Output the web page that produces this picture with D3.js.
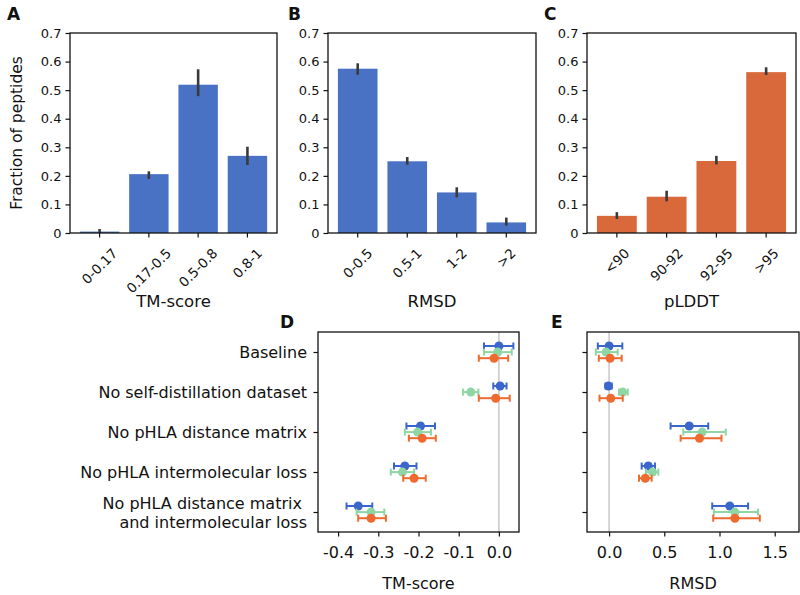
<!DOCTYPE html>
<meta charset="utf-8">
<script src="https://d3js.org/d3.v7.min.js"></script>
<style>
  body { margin: 0; background: #fff; }
  text { font-family: "DejaVu Sans", sans-serif; fill: #111; }
</style>
<div id="chart"></div>
<script>
// ---- data: top bar panels ----
var tmCats = ["0-0.17", "0.17-0.5", "0.5-0.8", "0.8-1"];
var tmVals = [0.005, 0.206, 0.519, 0.270];
var tmLo   = [0.000, 0.189, 0.479, 0.238];
var tmHi   = [0.014, 0.216, 0.573, 0.302];

var rmsdCats = ["0-0.5", "0.5-1", "1-2", ">2"];
var rmsdVals = [0.575, 0.251, 0.142, 0.037];
var rmsdLo   = [0.554, 0.239, 0.125, 0.026];
var rmsdHi   = [0.594, 0.266, 0.160, 0.054];

var plddtCats = ["<90", "90-92", "92-95", ">95"];
var plddtVals = [0.060, 0.127, 0.252, 0.563];
var plddtLo   = [0.049, 0.111, 0.240, 0.553];
var plddtHi   = [0.073, 0.148, 0.270, 0.580];

var yTicksTop = [0, 0.1, 0.2, 0.3, 0.4, 0.5, 0.6, 0.7];

// ---- data: ablation panels ----
var conditions = ["Baseline", "No self-distillation dataset", "No pHLA distance matrix",
  "No pHLA intermolecular loss", "No pHLA distance matrix \nand intermolecular loss"];
var seriesNames = ["s1", "s2", "s3"];

var tmBlue     = [0.000, 0.003, -0.195, -0.234, -0.350];
var tmBlueLo   = [-0.037, -0.014, -0.230, -0.261, -0.379];
var tmBlueHi   = [0.036, 0.019, -0.159, -0.205, -0.315];
var tmGreen    = [-0.003, -0.070, -0.202, -0.240, -0.318];
var tmGreenLo  = [-0.037, -0.089, -0.234, -0.269, -0.354];
var tmGreenHi  = [0.032, -0.051, -0.169, -0.211, -0.285];
var tmOrange   = [-0.012, -0.008, -0.191, -0.211, -0.318];
var tmOrangeLo = [-0.050, -0.050, -0.224, -0.238, -0.350];
var tmOrangeHi = [0.023, 0.027, -0.157, -0.182, -0.281];

var rmBlue     = [0.000, -0.006, 0.726, 0.355, 1.093];
var rmBlueLo   = [-0.102, -0.033, 0.557, 0.295, 0.934];
var rmBlueHi   = [0.120, 0.024, 0.898, 0.416, 1.259];
var rmGreen    = [-0.027, 0.124, 0.843, 0.394, 1.139];
var rmGreenLo  = [-0.120, 0.090, 0.672, 0.334, 0.949];
var rmGreenHi  = [0.078, 0.169, 1.057, 0.446, 1.349];
var rmOrange   = [0.009, 0.015, 0.819, 0.328, 1.139];
var rmOrangeLo = [-0.093, -0.087, 0.648, 0.271, 0.943];
var rmOrangeHi = [0.114, 0.124, 1.018, 0.386, 1.365];

var tmTicksD = [-0.4, -0.3, -0.2, -0.1, 0.0];
var rmTicksE = [0.0, 0.5, 1.0, 1.5];

// colours
var barBlue = "#4a72c4", barOrange = "#d9683b";
var ptColors = ["#3b66cc", "#8fd6a5", "#ee6a2e"];

var svg = d3.select("#chart").append("svg")
  .attr("width", 800).attr("height", 595);

function frame(g, w, h) {
  g.append("rect").attr("width", w).attr("height", h)
    .attr("fill", "none").attr("stroke", "#111").attr("stroke-width", 1.3);
}

// ---- bar panel ----
function barPanel(x0, w, cats, vals, lo, hi, color, letter, xlabel, ylab) {
  var top = 33, h = 200;
  var g = svg.append("g").attr("transform", "translate(" + x0 + "," + top + ")");
  var x = d3.scaleBand().domain(cats).range([0, w]).padding(0.2);
  var y = d3.scaleLinear().domain([0, 0.7]).range([h, 0]);

  g.selectAll(".bar").data(cats).enter().append("rect")
    .attr("x", function(d) { return x(d); })
    .attr("width", x.bandwidth())
    .attr("y", function(d, i) { return y(vals[i]); })
    .attr("height", function(d, i) { return h - y(vals[i]); })
    .attr("fill", color);

  g.selectAll(".err").data(cats).enter().append("line")
    .attr("x1", function(d) { return x(d) + x.bandwidth() / 2; })
    .attr("x2", function(d) { return x(d) + x.bandwidth() / 2; })
    .attr("y1", function(d, i) { return y(lo[i]); })
    .attr("y2", function(d, i) { return y(hi[i]); })
    .attr("stroke", "#3a3a3a").attr("stroke-width", 2.6);

  frame(g, w, h);

  var ya = g.append("g").call(d3.axisLeft(y).tickValues(yTicksTop).tickSize(4.5).tickPadding(4)
    .tickFormat(function(d) { return d === 0 ? "0" : d3.format(".1f")(d); }));
  ya.select(".domain").remove();
  ya.selectAll("line").attr("stroke", "#111").attr("stroke-width", 1.2);
  ya.selectAll("text").style("font-size", "13px").style("font-family", "DejaVu Sans");

  var xa = g.append("g").attr("transform", "translate(0," + h + ")")
    .call(d3.axisBottom(x).tickSize(4.5).tickFormat(""));
  xa.select(".domain").remove();
  xa.selectAll("line").attr("stroke", "#111").attr("stroke-width", 1.2);

  // rotated tick labels, bbox centred on tick
  cats.forEach(function(c) {
    var cx = x(c) + x.bandwidth() / 2;
    var t = g.append("text").text(c).style("font-size", "13.5px")
      .attr("text-anchor", "middle").attr("dy", "0.35em");
    var len = t.node().getComputedTextLength();
    var half = (len + 11) * 0.7071 / 2;
    t.attr("transform", "translate(" + cx + "," + (h + 14 + half) + ") rotate(-45)");
  });

  g.append("text").attr("x", w / 2).attr("y", 274).attr("text-anchor", "middle")
    .style("font-size", "16.5px").text(xlabel);

  svg.append("text").attr("x", letter[1]).attr("y", 20)
    .style("font-size", "17px").style("font-weight", "bold").text(letter[0]);

  if (ylab) {
    svg.append("text").attr("transform", "translate(22," + (top + h / 2) + ") rotate(-90)")
      .attr("text-anchor", "middle").style("font-size", "15.5px").text(ylab);
  }
}

barPanel(70, 207, tmCats, tmVals, tmLo, tmHi, barBlue, ["A", 7], "TM-score", "Fraction of peptides");
barPanel(328, 208, rmsdCats, rmsdVals, rmsdLo, rmsdHi, barBlue, ["B", 288], "RMSD", null);
barPanel(587, 209, plddtCats, plddtVals, plddtLo, plddtHi, barOrange, ["C", 544], "pLDDT", null);

// ---- ablation panel ----
function dotPanel(x0, w, domain, ticks, fmt, series, letter, xlabel, showCats) {
  var top = 332, h = 200;
  var g = svg.append("g").attr("transform", "translate(" + x0 + "," + top + ")");
  var x = d3.scaleLinear().domain(domain).range([0, w]);
  var y = d3.scalePoint().domain(conditions).range([0, h]).padding(0.5);
  var off = d3.scalePoint().domain(seriesNames).range([-6, 6.2]);

  g.append("line").attr("x1", x(0)).attr("x2", x(0)).attr("y1", 0).attr("y2", h)
    .attr("stroke", "#c8c8c8").attr("stroke-width", 1.5);

  series.forEach(function(s, si) {
    var col = ptColors[si];
    var sg = g.append("g");
    conditions.forEach(function(c, i) {
      var yy = y(c) + off(seriesNames[si]);
      sg.append("line").attr("x1", x(s.lo[i])).attr("x2", x(s.hi[i]))
        .attr("y1", yy).attr("y2", yy).attr("stroke", col).attr("stroke-width", 2);
      [s.lo[i], s.hi[i]].forEach(function(v) {
        sg.append("line").attr("x1", x(v)).attr("x2", x(v))
          .attr("y1", yy - 3.5).attr("y2", yy + 3.5).attr("stroke", col).attr("stroke-width", 2);
      });
      sg.append("circle").attr("cx", x(s.mean[i])).attr("cy", yy).attr("r", 4.5).attr("fill", col);
    });
  });

  frame(g, w, h);

  var xa = g.append("g").attr("transform", "translate(0," + h + ")")
    .call(d3.axisBottom(x).tickValues(ticks).tickSize(4.5).tickPadding(10).tickFormat(fmt));
  xa.select(".domain").remove();
  xa.selectAll("line").attr("stroke", "#111").attr("stroke-width", 1.2);
  xa.selectAll("text").style("font-size", "16px").style("font-family", "DejaVu Sans");

  var ya = g.append("g").call(d3.axisLeft(y).tickSize(4.5).tickFormat(""));
  ya.select(".domain").remove();
  ya.selectAll("line").attr("stroke", "#111").attr("stroke-width", 1.2);

  if (showCats) {
    conditions.forEach(function(c) {
      var lines = c.split("\n");
      var t = g.append("text").attr("text-anchor", "end").style("font-size", "16px")
        .attr("xml:space", "preserve");
      if (lines.length === 1) {
        t.append("tspan").attr("x", -11).attr("y", y(c)).attr("dy", "0.35em").text(lines[0]);
      } else {
        t.append("tspan").attr("x", -11).attr("y", y(c) - 9).attr("dy", "0.35em").text(lines[0]);
        t.append("tspan").attr("x", -11).attr("y", y(c) + 10).attr("dy", "0.35em").text(lines[1]);
      }
    });
  }

  g.append("text").attr("x", w / 2).attr("y", 257).attr("text-anchor", "middle")
    .style("font-size", "16px").text(xlabel);

  svg.append("text").attr("x", letter[1]).attr("y", 328)
    .style("font-size", "17px").style("font-weight", "bold").text(letter[0]);
}

var minus = function(d) { return d3.format(".1f")(d).replace("\u2212", "-"); };

dotPanel(318, 201, [-0.45, 0.05], tmTicksD, minus, [
  {mean: tmBlue, lo: tmBlueLo, hi: tmBlueHi},
  {mean: tmGreen, lo: tmGreenLo, hi: tmGreenHi},
  {mean: tmOrange, lo: tmOrangeLo, hi: tmOrangeHi}
], ["D", 280], "TM-score", true);

dotPanel(587, 212, [-0.2, 1.72], rmTicksE, d3.format(".1f"), [
  {mean: rmBlue, lo: rmBlueLo, hi: rmBlueHi},
  {mean: rmGreen, lo: rmGreenLo, hi: rmGreenHi},
  {mean: rmOrange, lo: rmOrangeLo, hi: rmOrangeHi}
], ["E", 551], "RMSD", false);
</script>
